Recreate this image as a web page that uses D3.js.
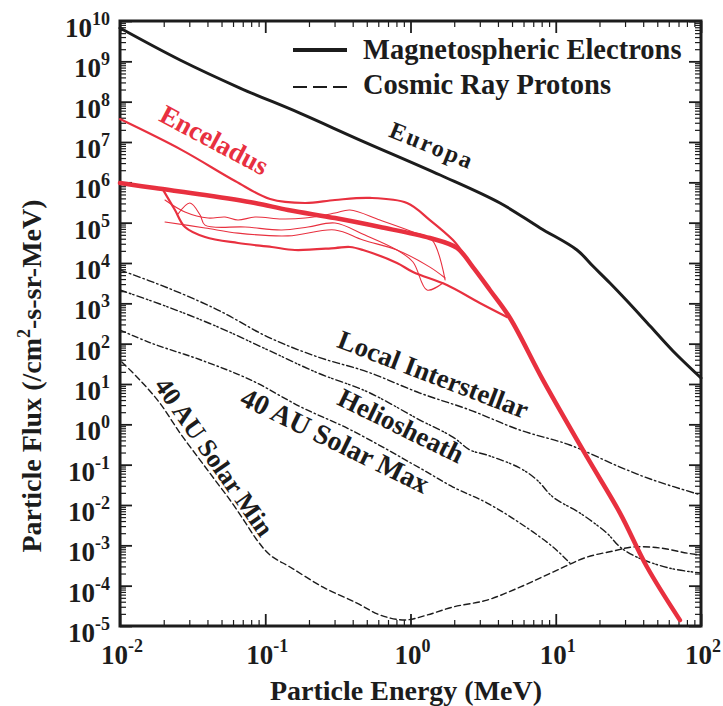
<!DOCTYPE html>
<html>
<head>
<meta charset="utf-8">
<script src="https://cdn.jsdelivr.net/npm/d3@7"></script>
<style>
    body { margin: 0; background: #fff; }
    svg text { font-family: "Liberation Serif", "Times New Roman", serif; font-weight: bold; fill: #1c1c1c; }
</style>
</head>
<body>
<svg id="chart" width="723" height="706"></svg>
<script>
// energy in MeV, flux in /cm2-s-sr-MeV
const europa = [[0.01, 6.7e9], [0.0259, 1.08e9], [0.067, 2.18e8], [0.173, 5.2e7], [0.449, 1.12e7],
    [1.6, 1.52e6], [4.13, 3.07e5], [7.8, 7.4e4], [14.0, 2.1e4], [18.0, 8.4e3], [23.6, 3.19e3],
    [31.0, 1.14e3], [44.6, 274], [64.1, 65.8], [100, 14.1]];

const enceladusMain = [[0.01, 9.6e5], [0.0174, 7.2e5], [0.0385, 4.85e5], [0.085, 3.07e5], [0.1435, 2.06e5],
    [0.302, 1.3e5], [0.617, 7.8e4], [1.36, 4.16e4], [2.09, 2.35e4], [2.69, 7.9e3], [3.52, 2.14e3],
    [4.84, 433], [8.17, 12.5], [16.4, 0.155], [27.7, 6.3e-3], [42.5, 2.9e-4], [71.6, 1.4e-5]];

const enceladusUpper = [[0.01, 3.7e7], [0.0267, 6.3e6], [0.062, 1.08e6], [0.108, 3.85e5], [0.188, 3.07e5],
    [0.302, 3.65e5], [0.526, 4.1e5], [0.946, 3.07e5], [1.36, 1.16e5], [1.96, 3.7e4], [2.3, 1.77e4]];

const enceladusLower = [[0.0198, 6.5e5], [0.0239, 2.06e5], [0.028, 7.8e4], [0.0385, 4.4e4], [0.0649, 3.13e4],
    [0.111, 2.49e4], [0.16, 2.1e4], [0.302, 2.35e4], [0.383, 2.49e4], [0.471, 2.1e4], [0.807, 1.0e4],
    [1.04, 5.97e3], [1.78, 2.84e3], [3.0, 1.02e3], [4.61, 458]];

const enceladusThin = [
    [[0.0204, 3.65e5], [0.028, 1.84e5], [0.0404, 1.3e5], [0.0528, 1.38e5], [0.0649, 1.16e5], [0.085, 1.38e5],
        [0.13, 1.23e5], [0.188, 1.3e5], [0.302, 1.73e5], [0.383, 2.06e5], [0.617, 1.16e5], [1.04, 5.9e4],
        [1.41, 3.7e4], [1.73, 3.8e3]],
    [[0.0251, 1.64e5], [0.0303, 3.07e5], [0.0356, 1.55e5], [0.0385, 8.7e4], [0.0726, 7.8e4], [0.13, 6.6e4],
        [0.197, 7.8e4], [0.302, 9.8e4], [0.486, 4.94e4], [0.807, 2.1e4], [1.04, 1.06e4], [1.3, 2.14e3],
        [1.67, 3.2e3]],
    [[0.0204, 1.04e5], [0.0385, 7.4e4], [0.0649, 5.5e4], [0.1435, 4.7e4], [0.302, 6.6e4], [0.471, 3.7e4],
        [0.807, 2.1e4], [1.36, 7.9e3], [1.73, 4.25e3]]
];

const localInterstellar = [[0.01, 6.7e3], [0.0214, 2.4e3], [0.0473, 682], [0.1045, 146], [0.2307, 46.7],
    [0.509, 19.8], [1.16, 5.97], [2.57, 2.26], [5.67, 0.72], [12.5, 0.307], [27.7, 0.0873],
    [46.8, 0.0416], [100, 0.0177]];

const heliosheath = [[0.01, 2.14e3], [0.0214, 811], [0.0473, 259], [0.1045, 69.5], [0.2307, 18.7],
    [0.509, 6.32], [1.16, 1.28], [1.96, 0.484], [2.57, 0.231], [3.37, 0.173], [5.67, 0.0824],
    [7.43, 0.0416], [9.57, 0.0157], [14.7, 6.3e-3], [22.5, 2.0e-3], [27.7, 9.1e-4], [36.2, 5.1e-4],
    [61.2, 2.7e-4], [100, 2.06e-4]];

const solarMax = [[0.01, 218], [0.0163, 104], [0.0361, 39.3], [0.0798, 12.5], [0.176, 2.69],
    [0.389, 0.723], [1.16, 0.0824], [1.96, 0.0279], [3.37, 0.0112], [5.67, 3.57e-3],
    [9.57, 9.1e-4], [12.5, 3.64e-4]];

const solarMin = [[0.0103, 35.1], [0.0137, 12.6], [0.0188, 3.38], [0.0259, 0.608], [0.0356, 0.13],
    [0.0451, 0.0416], [0.0572, 0.0133], [0.0726, 3.78e-3], [0.0877, 1.35e-3], [0.108, 5.74e-4],
    [0.148, 2.9e-4], [0.25, 9.2e-5], [0.428, 3.7e-5], [0.617, 1.87e-5], [0.916, 1.41e-5],
    [1.3, 1.87e-5], [1.96, 2.95e-5], [3.37, 4.4e-5], [5.67, 9.2e-5], [9.57, 2.18e-4], [16.4, 5.1e-4],
    [24.8, 7.2e-4], [34.0, 9.1e-4], [52.2, 8.6e-4], [80.2, 6.4e-4], [100, 5.7e-4]];

const xDecades = [-2, -1, 0, 1, 2];
const yDecades = d3.range(-5, 11);

const W = 723, H = 706;
const margin = {left: 120, top: 21, right: 22, bottom: 80};
const red = '#e8303f';

const svg = d3.select('#chart');

let x = d3.scaleLog().domain([1e-2, 1e2]).range([margin.left, W - margin.right]);
let y = d3.scaleLog().domain([1e-5, 1e10]).range([H - margin.bottom, margin.top]);

let minors = (decades) => d3.merge(decades.slice(0, -1).map(p => d3.range(2, 10).map(k => k * Math.pow(10, p))));

// ticks on all four sides, pointing inward
function tickAxis(axis, values, size, transform) {
    svg.append('g')
        .attr('transform', transform)
        .call(axis.tickValues(values).tickSize(size).tickSizeOuter(0).tickFormat(''))
        .call(g => g.select('.domain').remove())
        .call(g => g.selectAll('line').attr('stroke', '#1c1c1c').attr('stroke-width', size < -8 ? 1.8 : 1.2));
}

let xMaj = xDecades.map(p => Math.pow(10, p)), yMaj = yDecades.map(p => Math.pow(10, p));
let bottomY = H - margin.bottom, rightX = W - margin.right;

tickAxis(d3.axisBottom(x), xMaj, -12, `translate(0, ${bottomY})`);
tickAxis(d3.axisBottom(x), minors(xDecades), -6, `translate(0, ${bottomY})`);
tickAxis(d3.axisTop(x), xMaj, -12, `translate(0, ${margin.top})`);
tickAxis(d3.axisTop(x), minors(xDecades), -6, `translate(0, ${margin.top})`);
tickAxis(d3.axisLeft(y), yMaj, -12, `translate(${margin.left}, 0)`);
tickAxis(d3.axisLeft(y), minors(yDecades), -6, `translate(${margin.left}, 0)`);
tickAxis(d3.axisRight(y), yMaj, -12, `translate(${rightX}, 0)`);
tickAxis(d3.axisRight(y), minors(yDecades), -6, `translate(${rightX}, 0)`);

svg.append('rect')
    .attr('x', margin.left).attr('y', margin.top)
    .attr('width', rightX - margin.left).attr('height', bottomY - margin.top)
    .attr('fill', 'none').attr('stroke', '#1c1c1c').attr('stroke-width', 3);

// tick labels: 10 with superscript exponent
function powerLabel(sel, p) {
    sel.append('tspan').text('10');
    sel.append('tspan').attr('dy', -12).attr('font-size', 18).text(p);
}

svg.append('g').selectAll('text')
    .data(yDecades)
    .join('text')
    .attr('x', margin.left - 10)
    .attr('y', d => y(Math.pow(10, d)) + 16)
    .attr('text-anchor', 'end')
    .attr('font-size', 27)
    .each(function (d) { powerLabel(d3.select(this), d); });

svg.append('g').selectAll('text')
    .data(xDecades)
    .join('text')
    .attr('x', d => x(Math.pow(10, d)) + 2)
    .attr('y', bottomY + 38)
    .attr('text-anchor', 'middle')
    .attr('font-size', 27)
    .each(function (d) { powerLabel(d3.select(this), d); });

svg.append('text')
    .attr('x', 406).attr('y', 700)
    .attr('text-anchor', 'middle')
    .attr('font-size', 28)
    .text('Particle Energy (MeV)');

let ylab = svg.append('text')
    .attr('transform', 'translate(41, 376) rotate(-90)')
    .attr('text-anchor', 'middle')
    .attr('font-size', 28);
ylab.append('tspan').text('Particle Flux (/cm');
ylab.append('tspan').attr('dy', -11).attr('font-size', 18).text('2');
ylab.append('tspan').attr('dy', 11).text('-s-sr-MeV)');

// curves
let line = d3.line()
    .x(d => x(d[0]))
    .y(d => y(d[1]))
    .curve(d3.curveCatmullRom.alpha(0.5));

let plot = svg.append('g');

function curve(data, color, width, dash) {
    plot.append('path')
        .datum(data)
        .attr('d', line)
        .attr('fill', 'none')
        .attr('stroke', color)
        .attr('stroke-width', width)
        .attr('stroke-dasharray', dash || null)
        .attr('stroke-linejoin', 'round')
        .attr('stroke-linecap', 'round');
}

curve(localInterstellar, '#1c1c1c', 1.4, '7,3,1.5,3');
curve(heliosheath, '#1c1c1c', 1.4, '7,3,1.5,2,1.5,3');
curve(solarMax, '#1c1c1c', 1.4, '6,3,1.5,3');
curve(solarMin, '#1c1c1c', 1.4, '6,3.5');

enceladusThin.forEach(d => curve(d, red, 1.1));
curve(enceladusLower, red, 2.2);
curve(enceladusUpper, red, 2.2);
curve(enceladusMain, red, 4.5);
curve(europa, '#1c1c1c', 3);

// legend
let legend = svg.append('g');
legend.append('line')
    .attr('x1', 293).attr('x2', 347).attr('y1', 50).attr('y2', 50)
    .attr('stroke', '#1c1c1c').attr('stroke-width', 4);
legend.append('line')
    .attr('x1', 293).attr('x2', 347).attr('y1', 87).attr('y2', 87)
    .attr('stroke', '#1c1c1c').attr('stroke-width', 2).attr('stroke-dasharray', '14,6');
legend.append('text').attr('x', 363).attr('y', 59).attr('font-size', 28.5).text('Magnetospheric Electrons');
legend.append('text').attr('x', 363).attr('y', 94).attr('font-size', 28.5).text('Cosmic Ray Protons');

// curve labels
const curveLabels = [
    {text: 'Enceladus', x: 210, y: 148, angle: 28, size: 27, color: red, spacing: 0},
    {text: 'Europa', x: 429, y: 153, angle: 22, size: 24, color: '#1c1c1c', spacing: 2},
    {text: 'Local Interstellar', x: 430, y: 383, angle: 21, size: 27, color: '#1c1c1c', spacing: 0},
    {text: 'Heliosheath', x: 397, y: 434, angle: 26, size: 27, color: '#1c1c1c', spacing: 0},
    {text: '40 AU Solar Max', x: 331, y: 449, angle: 26, size: 28, color: '#1c1c1c', spacing: 0},
    {text: '40 AU Solar Min', x: 207, y: 462, angle: 55, size: 26, color: '#1c1c1c', spacing: 0}
];

svg.append('g').selectAll('text')
    .data(curveLabels)
    .join('text')
    .attr('transform', d => `translate(${d.x}, ${d.y}) rotate(${d.angle})`)
    .attr('text-anchor', 'middle')
    .attr('font-size', d => d.size)
    .attr('letter-spacing', d => d.spacing)
    .style('fill', d => d.color)
    .text(d => d.text);
</script>
</body>
</html>
